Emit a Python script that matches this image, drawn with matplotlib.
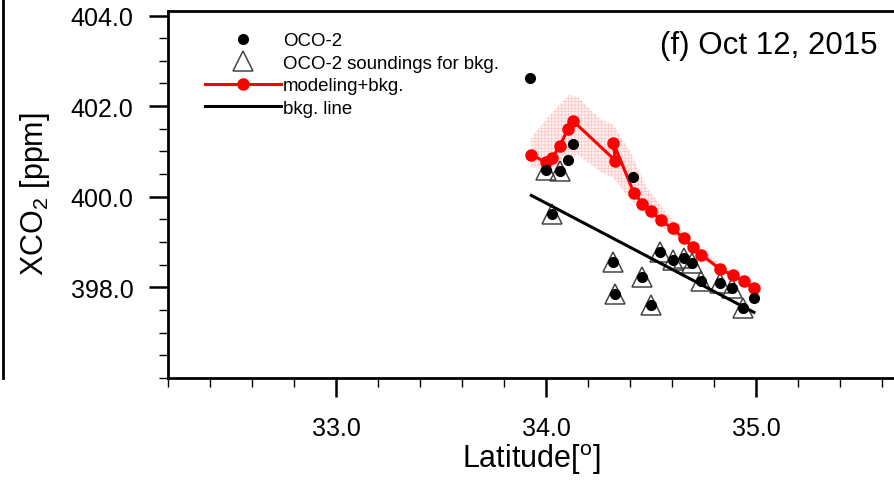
import numpy as np
import matplotlib
matplotlib.use('Agg')
import matplotlib.pyplot as plt
from matplotlib.lines import Line2D
from matplotlib.ticker import MultipleLocator, FormatStrFormatter

plt.rcParams['font.family'] = ['Liberation Sans', 'DejaVu Sans']
plt.rcParams['mathtext.fontset'] = 'custom'
plt.rcParams['mathtext.rm'] = 'Liberation Sans'
plt.rcParams['mathtext.it'] = 'Liberation Sans:italic'
plt.rcParams['hatch.linewidth'] = 0.5

# OCO-2 soundings
oco_lat = [33.924, 34.000, 34.067, 34.103, 34.127, 34.416, 34.029, 34.321, 34.330, 34.457,
           34.501, 34.544, 34.603, 34.655, 34.697, 34.740, 34.830, 34.887, 34.940, 34.990]
oco_xco2 = [402.63, 400.60, 400.56, 400.82, 401.17, 400.44, 399.61, 398.57, 397.85, 398.24,
            397.61, 398.79, 398.61, 398.64, 398.53, 398.15, 398.10, 397.98, 397.55, 397.77]

# soundings used for background
bkg_lat = [34.000, 34.067, 34.029, 34.321, 34.330, 34.457, 34.501, 34.544, 34.603, 34.655,
           34.697, 34.740, 34.830, 34.887, 34.940]
bkg_xco2 = [400.60, 400.56, 399.61, 398.57, 397.85, 398.24, 397.61, 398.79, 398.61, 398.64,
            398.53, 398.15, 398.10, 397.98, 397.55]

# modeling + bkg
mod_lat = [33.927, 33.998, 34.030, 34.067, 34.103, 34.127, 34.330, 34.321, 34.418, 34.459,
           34.501, 34.546, 34.603, 34.656, 34.698, 34.740, 34.830, 34.889, 34.941, 34.990]
mod_xco2 = [400.93, 400.77, 400.86, 401.13, 401.49, 401.68, 400.80, 401.19, 400.09, 399.85,
            399.69, 399.48, 399.30, 399.08, 398.89, 398.72, 398.40, 398.27, 398.14, 397.98]

# spread of the modeling
band_lat = [33.93, 34.02, 34.07, 34.11, 34.15, 34.26, 34.32, 34.40, 34.48, 34.58, 34.67,
            34.77, 34.83, 34.89, 34.94, 34.99]
band_hi = [401.30, 401.81, 402.05, 402.25, 402.21, 401.70, 401.59, 401.00, 400.20, 399.61,
           399.10, 398.75, 398.50, 398.36, 398.24, 398.08]
band_lo = [400.64, 400.60, 400.65, 400.85, 400.93, 400.55, 400.42, 399.95, 399.60, 399.22,
           398.95, 398.55, 398.33, 398.20, 398.06, 397.90]

# background line
line_lat = [33.93, 34.99]
line_xco2 = [400.03, 397.45]

W, H = 895, 485
fig = plt.figure(figsize=(W / 100, H / 100), dpi=100)
ax_l, ax_b, ax_r, ax_t = 168, 379, 900, 12
ax = fig.add_axes([ax_l / W, (H - ax_b) / H, (ax_r - ax_l) / W, (ax_b - ax_t) / H])

ax.fill_between(band_lat, band_lo, band_hi, facecolor='#fff2f2', edgecolor='#ffc4c4',
                hatch='+++++', linewidth=0, zorder=1)
ax.plot(bkg_lat, bkg_xco2, ls='', marker='^', ms=14, mfc='none', mec='#444444', mew=1.1,
        zorder=2, label='OCO-2 soundings for bkg.')
ax.plot(line_lat, line_xco2, color='black', lw=2.2, zorder=3, label='bkg. line')
ax.plot(mod_lat, mod_xco2, color='red', lw=2.2, marker='o', ms=8, zorder=4,
        label='modeling+bkg.')
ax.plot(oco_lat, oco_xco2, ls='', marker='o', ms=7, color='black', zorder=5, label='OCO-2')

ax.set_xlim(32.2, 32.2 + (ax_r - ax_l) / 210)
ax.set_ylim(396.0, 404.1)
ax.xaxis.set_major_locator(MultipleLocator(1.0))
ax.xaxis.set_minor_locator(MultipleLocator(0.2))
ax.yaxis.set_minor_locator(MultipleLocator(0.5))
ax.xaxis.set_major_formatter(FormatStrFormatter('%.1f'))
ax.yaxis.set_major_formatter(FormatStrFormatter('%.1f'))
ax.set_yticks([398, 400, 402, 404])

ax.tick_params(which='major', direction='out', length=13.5, width=1.8, labelsize=18)
ax.tick_params(axis='y', which='major', pad=11.5)
ax.tick_params(axis='x', which='major', pad=14.0)
ax.tick_params(which='minor', direction='out', length=6.5, width=1.0)
ax.tick_params(top=False, right=False)
for s in ax.spines.values():
    s.set_linewidth(2.0)

ax.set_xlabel('Latitude[$^\\mathrm{o}$]', fontsize=22)
ax.set_ylabel('XCO$_2$ [ppm]', fontsize=22)
ax.xaxis.set_label_coords((531 - ax_l) / (ax_r - ax_l), -(442 - ax_b) / (ax_b - ax_t))
ax.yaxis.set_label_coords(-(ax_l - 52) / (ax_r - ax_l), (ax_b - 194) / (ax_b - ax_t))

ax.text((878 - ax_l) / (ax_r - ax_l), 1 - (46 - ax_t) / (ax_b - ax_t), '(f) Oct 12, 2015',
        transform=ax.transAxes, ha='right', va='center', fontsize=22.5)

h, l = ax.get_legend_handles_labels()
order = [3, 0, 2, 1]
ax.legend([h[i] for i in order], [l[i] for i in order], loc='upper left',
          bbox_to_anchor=((205 - ax_l) / (ax_r - ax_l), 1 - (33 - ax_t) / (ax_b - ax_t)),
          frameon=False, fontsize=13.4, handlelength=4.1, handletextpad=0.1,
          labelspacing=0.3, borderpad=0, borderaxespad=0, numpoints=1)

# edge of the neighbouring panel on the left
fig.add_artist(Line2D([3.5 / W, 3.5 / W], [1, (H - ax_b) / H], transform=fig.transFigure,
                      color='black', lw=2.0))

fig.savefig('out.png', dpi=100)
